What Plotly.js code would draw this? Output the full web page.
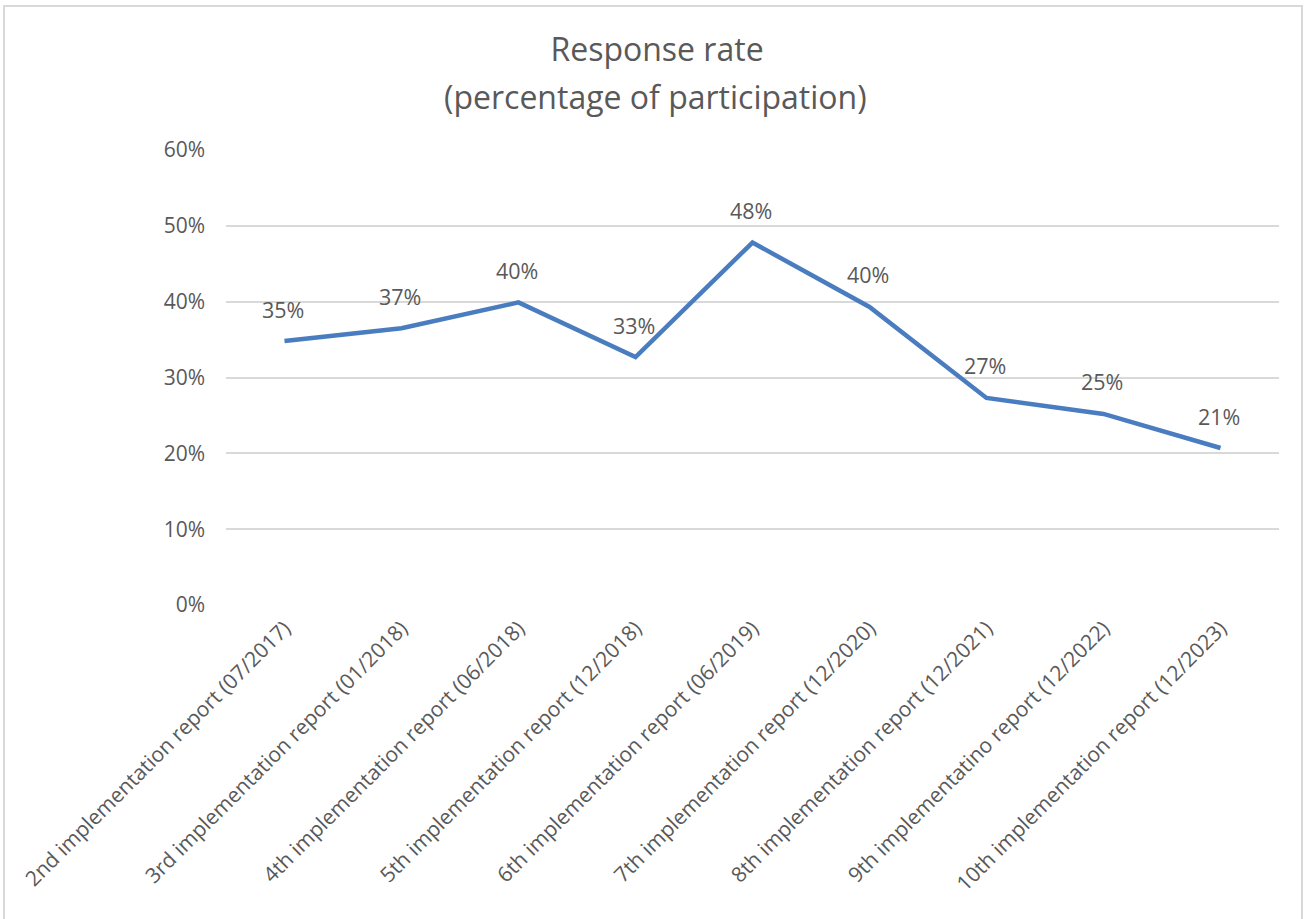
<!DOCTYPE html>
<html>
<head>
<meta charset="utf-8">
<script src="https://cdn.plot.ly/plotly-3.0.1.min.js"></script>
<style>
  html, body { margin: 0; padding: 0; background: #ffffff; overflow: hidden; }
  #frame { position: absolute; left: 3px; top: 5px; width: 1300px; height: 920px;
           border-left: 2px solid #d9d9d9; border-top: 2px solid #d9d9d9; border-right: 2px solid #d9d9d9; box-sizing: border-box; }
  #chart { position: absolute; left: 0; top: 0; width: 1307px; height: 919px; }
</style>
</head>
<body>
<div id="frame"></div>
<div id="chart"></div>
<script>
const categories = [
  "2nd implementation report (07/2017)",
  "3rd implementation report (01/2018)",
  "4th implementation report (06/2018)",
  "5th implementation report (12/2018)",
  "6th implementation report (06/2019)",
  "7th implementation report (12/2020)",
  "8th implementation report (12/2021)",
  "9th implementatino report (12/2022)",
  "10th implementation report (12/2023)"
];
const responseRate = [0.348, 0.365, 0.399, 0.327, 0.478, 0.393, 0.273, 0.252, 0.207];
const rateLabels = ["35%", "37%", "40%", "33%", "48%", "40%", "27%", "25%", "21%"];
const yTickValues = [0, 0.1, 0.2, 0.3, 0.4, 0.5, 0.6];
const yTickLabels = ["0%", "10%", "20%", "30%", "40%", "50%", "60%"];

const FONT = "'Open Sans', 'Noto Sans', sans-serif";
const GREY = "#595959";

const trace = {
  type: "scatter",
  mode: "lines",
  x: categories,
  y: responseRate,
  line: { color: "#4a7dbf", width: 4.5 },
  hoverinfo: "skip"
};

const annotations = categories.map((c, i) => ({
  x: c, y: responseRate[i], xref: "x", yref: "y",
  text: rateLabels[i], showarrow: false,
  yanchor: "middle", yshift: 32, xshift: -2,
  font: { family: FONT, size: 21.5, color: GREY }
}));
annotations.push({
  xref: "paper", yref: "paper", x: (655 - 226) / 1053, y: (605 - 97) / 455,
  xanchor: "center", yanchor: "middle",
  text: "(percentage of participation)", showarrow: false,
  font: { family: FONT, size: 32, color: GREY }
});

const layout = {
  width: 1307, height: 919,
  paper_bgcolor: "rgba(0,0,0,0)", plot_bgcolor: "rgba(0,0,0,0)",
  margin: { l: 226, r: 28, t: 150, b: 314, autoexpand: false },
  showlegend: false,
  title: {
    text: "Response rate",
    x: 657 / 1307, xref: "container", xanchor: "center",
    y: 1 - 50/919, yref: "container", yanchor: "middle",
    font: { family: FONT, size: 32, color: GREY }
  },
  xaxis: {
    type: "category",
    range: [-0.5, 8.5],
    tickangle: -45,
    showgrid: false, zeroline: false, showline: false,
    ticks: "", automargin: false,
    tickfont: { family: FONT, size: 21, color: GREY },
    ticklabelstandoff: 6
  },
  yaxis: {
    range: [0, 0.6],
    tickvals: yTickValues, ticktext: yTickLabels,
    showgrid: true, gridcolor: "#d9d9d9", gridwidth: 2,
    zeroline: false, showline: false, ticks: "", automargin: false,
    tickfont: { family: FONT, size: 21, color: GREY },
    ticklabelstandoff: 20
  },
  annotations: annotations
};

Plotly.newPlot("chart", [trace], layout, { displayModeBar: false, staticPlot: true });
</script>
</body>
</html>
